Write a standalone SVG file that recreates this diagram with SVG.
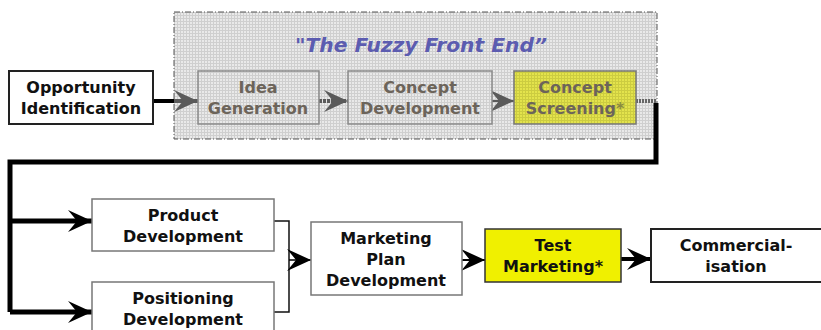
<svg xmlns="http://www.w3.org/2000/svg" width="821" height="330" viewBox="0 0 821 330">
  <defs>
    <pattern id="grid" width="3" height="3" patternUnits="userSpaceOnUse">
      <rect width="3" height="3" fill="#e9e9e9"/>
      <path d="M0 0.5H3M0.5 0V3" stroke="#cfcfcf" stroke-width="1"/>
    </pattern>
    <pattern id="gridYellow" width="3" height="3" patternUnits="userSpaceOnUse">
      <rect width="3" height="3" fill="#e3e34c"/>
      <path d="M0 0.5H3M0.5 0V3" stroke="#cccc40" stroke-width="1"/>
    </pattern>
    <marker id="chev" markerWidth="26" markerHeight="24" refX="24" refY="12" orient="auto" markerUnits="userSpaceOnUse">
      <path d="M24 12L0 1L9 12L0 23Z" fill="#000"/>
    </marker>
    <marker id="chevGrey" markerWidth="26" markerHeight="24" refX="24" refY="12" orient="auto" markerUnits="userSpaceOnUse">
      <path d="M24 12L0 1L9 12L0 23Z" fill="#5a5a5a"/>
    </marker>
  </defs>
  <style>
    .lbl { font-family: "DejaVu Sans", Verdana, sans-serif; font-weight: bold; font-size: 16px; text-anchor: middle; fill: #111; }
    .faded { fill: #6c645a; }
    .box { fill: #fff; stroke: #777; stroke-width: 1.5; }
    .dark { stroke: #222; stroke-width: 2; }
    .inner { fill: url(#grid); stroke: #8a8a8a; stroke-width: 1.5; }
    .thick { fill: none; stroke: #000; stroke-width: 5; }
    .thin { fill: none; stroke: #111; stroke-width: 1.5; }
  </style>

  <!-- fuzzy front end region -->
  <g id="fuzzy-front-end">
    <rect x="174" y="12" width="483" height="127" fill="url(#grid)" stroke="#555" stroke-width="1" stroke-dasharray="6 2 1 2"/>
    <text x="421" y="52" font-family="'DejaVu Sans', Verdana, sans-serif" font-style="italic" font-weight="bold" font-size="20" fill="#5c5cb0" text-anchor="middle" textLength="252" lengthAdjust="spacingAndGlyphs">"The Fuzzy Front End”</text>
  </g>

  <!-- connectors -->
  <g id="connectors">
    <path d="M153 101H176" stroke="#000" stroke-width="4"/>
    <path d="M174 101H198" stroke="#5a5a5a" stroke-width="4" marker-end="url(#chevGrey)"/>
    <path d="M319 101H348" stroke="#5a5a5a" stroke-width="4" stroke-dasharray="3 1" marker-end="url(#chevGrey)"/>
    <path d="M492 101H514" stroke="#5a5a5a" stroke-width="2" marker-end="url(#chevGrey)"/>
    <path d="M636 101H657" stroke="#666" stroke-width="4" stroke-dasharray="2 1"/>
    <path d="M656 103V162H10V312" class="thick"/>
    <path d="M10 221H92" class="thick" marker-end="url(#chev)"/>
    <path d="M10 312H92" class="thick" marker-end="url(#chev)"/>
    <path d="M274 221H289V312H274" class="thin"/>
    <path d="M289 260H311" stroke="#000" stroke-width="1.5" marker-end="url(#chev)"/>
    <path d="M462 260H485" stroke="#000" stroke-width="2" marker-end="url(#chev)"/>
    <path d="M621 259H651" stroke="#000" stroke-width="4" marker-end="url(#chev)"/>
  </g>

  <g id="opportunity-identification">
    <rect x="9" y="71" width="144" height="53" class="box dark"/>
    <text class="lbl" x="81" y="93">Opportunity</text>
    <text class="lbl" x="81" y="114">Identification</text>
  </g>

  <g id="idea-generation">
    <rect x="198" y="71" width="121" height="53" class="inner"/>
    <text class="lbl faded" x="258" y="93">Idea</text>
    <text class="lbl faded" x="258" y="114">Generation</text>
  </g>

  <g id="concept-development">
    <rect x="348" y="71" width="144" height="53" class="inner"/>
    <text class="lbl faded" x="420" y="93">Concept</text>
    <text class="lbl faded" x="420" y="114">Development</text>
  </g>

  <g id="concept-screening">
    <rect x="514" y="71" width="122" height="53" fill="url(#gridYellow)" stroke="#777" stroke-width="1.5"/>
    <text class="lbl faded" x="575" y="93">Concept</text>
    <text class="lbl faded" x="575" y="114">Screening<tspan fill="#8a8a40">*</tspan></text>
  </g>

  <g id="product-development">
    <rect x="92" y="199" width="182" height="52" class="box"/>
    <text class="lbl" x="183" y="221">Product</text>
    <text class="lbl" x="183" y="242">Development</text>
  </g>

  <g id="positioning-development">
    <rect x="92" y="282" width="182" height="60" class="box"/>
    <text class="lbl" x="183" y="304">Positioning</text>
    <text class="lbl" x="183" y="325">Development</text>
  </g>

  <g id="marketing-plan-development">
    <rect x="311" y="222" width="151" height="73" class="box"/>
    <text class="lbl" x="386" y="244">Marketing</text>
    <text class="lbl" x="386" y="265">Plan</text>
    <text class="lbl" x="386" y="286">Development</text>
  </g>

  <g id="test-marketing">
    <rect x="485" y="229" width="136" height="53" fill="#f0f000" stroke="#333" stroke-width="1.5"/>
    <text class="lbl" x="553" y="251">Test</text>
    <text class="lbl" x="553" y="272">Marketing*</text>
  </g>

  <g id="commercialisation">
    <rect x="651" y="229" width="172" height="53" class="box dark"/>
    <text class="lbl" x="736" y="251">Commercial-</text>
    <text class="lbl" x="736" y="272">isation</text>
  </g>
</svg>
